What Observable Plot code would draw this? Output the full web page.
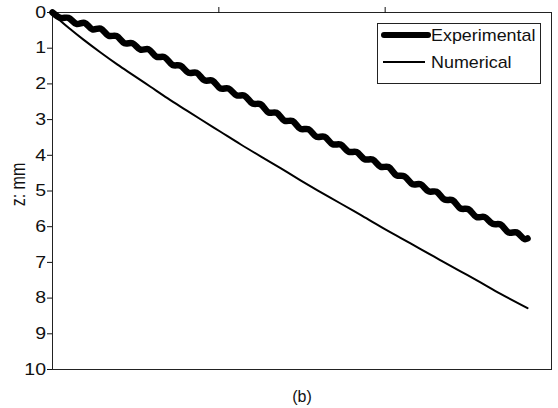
<!DOCTYPE html>
<html>
<head>
<meta charset="utf-8">
<script src="https://cdn.jsdelivr.net/npm/d3@7"></script>
<script src="https://cdn.jsdelivr.net/npm/@observablehq/plot@0.6"></script>
<style>
  html, body { margin: 0; padding: 0; background: #fff; }
  #wrap { position: relative; width: 558px; height: 408px; font-family: "Liberation Sans", Arial, sans-serif; }
  #caption { position: absolute; left: 302px; top: 388px; transform: translateX(-50%); font-size: 16px; line-height: 18px; color: #111; }
  #overlay { position: absolute; left: 0; top: 0; pointer-events: none; }
</style>
</head>
<body>
<div id="wrap">
  <div id="chart"></div>
  <svg id="overlay" width="558" height="408"></svg>
  <div id="caption">(b)</div>
</div>
<script>
// Experimental (thick wavy curve)
const expX = [0, 0.048, 0.096, 0.144, 0.192, 0.240, 0.289, 0.337, 0.385, 0.433,
  0.481, 0.529, 0.577, 0.625, 0.673, 0.722, 0.770, 0.818, 0.866, 0.914,
  0.962, 1.010, 1.058, 1.106, 1.154, 1.203, 1.251, 1.299, 1.347, 1.395,
  1.443, 1.491, 1.539, 1.587, 1.635, 1.684, 1.732, 1.780, 1.828, 1.876,
  1.924, 1.972, 2.020, 2.068, 2.116, 2.165, 2.213, 2.261, 2.309, 2.357,
  2.405, 2.453, 2.501, 2.549, 2.597, 2.646, 2.694, 2.742, 2.790, 2.838, 2.856];
const expZ = [0.00, 0.15, 0.15, 0.32, 0.29, 0.47, 0.45, 0.65, 0.66, 0.86,
  0.86, 1.04, 1.03, 1.24, 1.25, 1.47, 1.49, 1.69, 1.69, 1.90,
  1.91, 2.13, 2.13, 2.32, 2.33, 2.55, 2.57, 2.80, 2.81, 3.03,
  3.04, 3.26, 3.27, 3.48, 3.48, 3.69, 3.70, 3.90, 3.91, 4.11,
  4.12, 4.32, 4.33, 4.56, 4.59, 4.81, 4.81, 5.01, 5.02, 5.24,
  5.26, 5.49, 5.51, 5.73, 5.73, 5.92, 5.94, 6.16, 6.16, 6.35, 6.33];

// Numerical (thin smooth curve)
const numX = [0, 0.036, 0.108, 0.186, 0.289, 0.391, 0.487, 0.589, 0.691, 0.788, 0.890,
  1.010, 1.130, 1.251, 1.371, 1.491, 1.593, 1.732, 1.852, 1.972, 2.092,
  2.213, 2.333, 2.453, 2.573, 2.694, 2.856];
const numZ = [0, 0.18, 0.47, 0.76, 1.12, 1.46, 1.76, 2.08, 2.40, 2.69, 2.99,
  3.34, 3.69, 4.03, 4.36, 4.70, 4.98, 5.35, 5.67, 6.00, 6.31,
  6.63, 6.94, 7.25, 7.56, 7.88, 8.28];

const yTicks = [0, 1, 2, 3, 4, 5, 6, 7, 8, 9, 10];
const xTopTicks = [1, 2];
const seriesNames = ["Experimental", "Numerical"];
const yLabel = "z: mm";

const exp = expX.map((x, i) => ({x, z: expZ[i]}));
const num = numX.map((x, i) => ({x, z: numZ[i]}));

const FONT = "'Liberation Sans', Arial, sans-serif";

const chart = Plot.plot({
  width: 558,
  height: 380,
  marginLeft: 52,
  marginRight: 7,
  marginTop: 12,
  marginBottom: 11,
  style: {fontFamily: FONT, fontSize: "15px", color: "#111", background: "white"},
  x: {domain: [0, 3]},
  y: {domain: [0, 10], reverse: true},
  marks: [
    Plot.frame({stroke: "#222", strokeWidth: 1}),
    Plot.axisY({ticks: yTicks, tickSize: 5, tickFormat: () => "", label: null}),
    Plot.axisX({anchor: "top", ticks: xTopTicks, tickSize: 6, tickFormat: () => "", label: null}),
    Plot.line(num, {x: "x", y: "z", stroke: "black", strokeWidth: 2, curve: "catmull-rom"}),
    Plot.line(exp, {x: "x", y: "z", stroke: "black", strokeWidth: 6.5, curve: "catmull-rom", strokeLinejoin: "round", strokeLinecap: "round"})
  ]
});
document.getElementById("chart").appendChild(chart);

const ys = chart.scale("y");
const ov = d3.select("#overlay");

// y tick labels (the reference lettering is horizontally widened)
yTicks.forEach(v => {
  ov.append("text")
    .attr("transform", `translate(46,${ys.apply(v)}) scale(1.22,1)`)
    .attr("dy", "0.36em").attr("text-anchor", "end")
    .attr("font-family", FONT).attr("font-size", 16).attr("fill", "#111")
    .text(String(v));
});
// y axis label
ov.append("text")
  .attr("transform", `translate(17.5,${(ys.apply(0) + ys.apply(10)) / 2 - 6}) rotate(-90) scale(1,1.3)`)
  .attr("dy", "0.36em").attr("text-anchor", "middle")
  .attr("font-family", FONT).attr("font-size", 16).attr("fill", "#111")
  .text(yLabel);

// Legend box
ov.append("rect").attr("x", 377.5).attr("y", 23.5).attr("width", 163).attr("height", 60)
  .attr("fill", "white").attr("stroke", "#222").attr("stroke-width", 1);
const rows = [{y: 35, w: 6, x1: 384, x2: 428}, {y: 62, w: 2, x1: 383, x2: 425}];
rows.forEach((r, i) => {
  ov.append("line").attr("x1", r.x1).attr("x2", r.x2).attr("y1", r.y).attr("y2", r.y)
    .attr("stroke", "black").attr("stroke-width", r.w).attr("stroke-linecap", i === 0 ? "round" : "butt");
  ov.append("text").attr("transform", `translate(431,${r.y}) scale(1.12,1)`).attr("dy", "0.35em")
    .attr("font-family", FONT).attr("font-size", 16).attr("fill", "#111")
    .text(seriesNames[i]);
});
</script>
</body>
</html>
